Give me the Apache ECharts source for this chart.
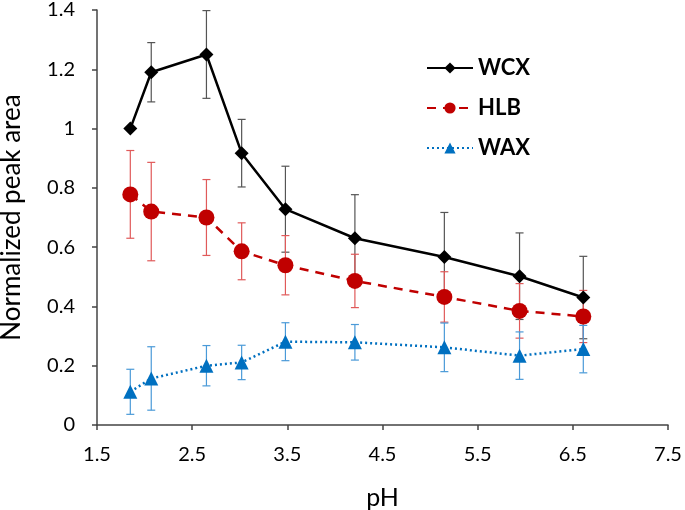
<!DOCTYPE html>
<html>
<head>
<meta charset="utf-8">
<script src="https://cdn.jsdelivr.net/npm/echarts@6/dist/echarts.min.js"></script>
<style>
  html, body { margin: 0; padding: 0; background: #fff; }
  #chart { width: 685px; height: 510px; }
</style>
</head>
<body>
<div id="chart"></div>
<script>
// pH values and normalized peak areas
const ph = [1.85, 2.07, 2.65, 3.02, 3.48, 4.21, 5.15, 5.94, 6.61]
const wcx = [1.0, 1.19, 1.25, 0.917, 0.728, 0.63, 0.567, 0.502, 0.43]
const wcxErr = [0, 0.10, 0.148, 0.114, 0.145, 0.147, 0.15, 0.146, 0.139]
const hlb = [0.778, 0.72, 0.70, 0.586, 0.539, 0.486, 0.432, 0.385, 0.366]
const hlbErr = [0.148, 0.166, 0.128, 0.096, 0.1, 0.09, 0.085, 0.092, 0.088]
const wax = [0.112, 0.157, 0.2, 0.211, 0.281, 0.279, 0.262, 0.234, 0.256]
const waxErr = [0.076, 0.107, 0.068, 0.058, 0.064, 0.06, 0.082, 0.08, 0.08]
const seriesNames = ['WCX', 'HLB', 'WAX']

const font = 'Lato, "Open Sans", sans-serif'

function points (ys) {
  return ph.map((x, i) => [x, ys[i]])
}

function errData (ys, errs) {
  return ph.map((x, i) => [x, ys[i] - errs[i], ys[i] + errs[i]])
}

// draws vertical error bars with caps
function errSeries (ys, errs, color) {
  return {
    type: 'custom',
    silent: true,
    z: 1,
    data: errData(ys, errs),
    renderItem: function (params, api) {
      const lo = api.coord([api.value(0), api.value(1)])
      const hi = api.coord([api.value(0), api.value(2)])
      const w = 4
      const style = { stroke: color, lineWidth: 1.2 }
      return {
        type: 'group',
        children: [
          { type: 'line', shape: { x1: lo[0], y1: lo[1], x2: hi[0], y2: hi[1] }, style: style },
          { type: 'line', shape: { x1: lo[0] - w, y1: lo[1], x2: lo[0] + w, y2: lo[1] }, style: style },
          { type: 'line', shape: { x1: hi[0] - w, y1: hi[1], x2: hi[0] + w, y2: hi[1] }, style: style }
        ]
      }
    }
  }
}

const chart = echarts.init(document.getElementById('chart'))

const axisText = { color: '#000', fontSize: 20, fontFamily: font }

chart.setOption({
  animation: false,
  grid: { left: 97, right: 17, top: 10, bottom: 85, outerBoundsMode: 'none' },
  legend: {
    orient: 'vertical',
    left: 421,
    top: 52,
    itemWidth: 46,
    itemHeight: 14,
    itemGap: 18,
    data: seriesNames,
    textStyle: { color: '#000', fontSize: 22, fontWeight: 'bold', fontFamily: font }
  },
  xAxis: {
    type: 'value',
    min: 1.5,
    max: 7.5,
    interval: 1,
    name: 'pH',
    nameLocation: 'middle',
    nameGap: 60,
    nameTextStyle: { color: '#000', fontSize: 25, fontFamily: font },
    axisLine: { lineStyle: { color: '#444', width: 1.5 } },
    axisTick: { inside: false, length: 5, lineStyle: { color: '#444', width: 1.5 } },
    axisLabel: Object.assign({ margin: 20, formatter: v => v.toFixed(1) }, axisText),
    splitLine: { show: false }
  },
  yAxis: {
    type: 'value',
    min: 0,
    max: 1.4,
    interval: 0.2,
    name: 'Normalized peak area',
    nameLocation: 'middle',
    nameGap: 72,
    nameTextStyle: { color: '#000', fontSize: 26, fontFamily: font },
    axisLine: { show: true, lineStyle: { color: '#444', width: 1.5 } },
    axisTick: { show: true, length: 5, lineStyle: { color: '#444', width: 1.5 } },
    axisLabel: Object.assign({ margin: 22, formatter: v => String(Math.round(v * 10) / 10) }, axisText),
    splitLine: { show: false }
  },
  series: [
    errSeries(wcx, wcxErr, '#555555'),
    errSeries(hlb, hlbErr, '#e05a5a'),
    errSeries(wax, waxErr, '#4a9ad8'),
    {
      name: 'WCX',
      type: 'line',
      z: 3,
      data: points(wcx),
      symbol: 'diamond',
      symbolSize: 14,
      itemStyle: { color: '#000' },
      lineStyle: { color: '#000', width: 2.5 }
    },
    {
      name: 'HLB',
      type: 'line',
      z: 3,
      data: points(hlb),
      symbol: 'circle',
      symbolSize: 16,
      itemStyle: { color: '#c00000' },
      lineStyle: { color: '#c00000', width: 2.5, type: [9, 7] }
    },
    {
      name: 'WAX',
      type: 'line',
      z: 3,
      data: points(wax),
      symbol: 'triangle',
      symbolSize: 14,
      itemStyle: { color: '#0070c0' },
      lineStyle: { color: '#0070c0', width: 2.5, type: [2, 3] }
    }
  ]
})
</script>
</body>
</html>
